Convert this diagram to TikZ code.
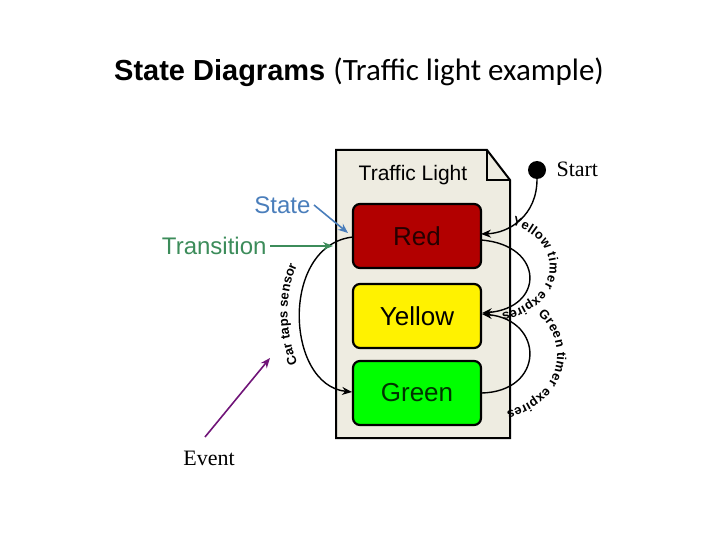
\documentclass[tikz,border=0pt]{standalone}
\usepackage{fontspec}
\setmainfont{Liberation Serif}
\setsansfont{Liberation Sans}
\newfontfamily\carl{Carlito}
\usetikzlibrary{arrows.meta,decorations.text}
\definecolor{stblue}{RGB}{74,126,187}
\definecolor{trgreen}{RGB}{60,140,90}
\definecolor{evpur}{RGB}{112,20,120}
\definecolor{paper}{RGB}{238,236,225}
\begin{document}
\begin{tikzpicture}[x=1pt,y=-1pt,
  st/.style={draw=black,line width=2.2pt,rounded corners=7pt,minimum width=128pt,minimum height=64pt,font=\sffamily\fontsize{26}{26}\selectfont},
  arr/.style={-{Stealth[length=10pt,width=8pt]},line width=1.4pt},
  lab/.style={font=\sffamily\fontsize{24}{24}\selectfont},
  curv/.style={decorate,decoration={text along path,text align=center,raise=3pt,text={|\sffamily\bfseries\fontsize{13}{13}\selectfont|#1}}}]
\useasboundingbox (0,0) rectangle (720,540);
\node[anchor=west,inner sep=0] (title) at (114,72) {\sffamily\bfseries\fontsize{29}{29}\selectfont State Diagrams \carl\mdseries\fontsize{31}{31}\selectfont(Traffic light example)};
\draw[fill=paper,line width=2pt] (336,150) -- (487,150) -- (510,180) -- (510,438) -- (336,438) -- cycle;
\draw[line width=2pt] (487,150) -- (487,180) -- (510,180);
\node[font=\sffamily\fontsize{21}{21}\selectfont] (tl) at (413,175) {Traffic Light};
\node[st,fill=red!70!black,text=black!85!red] (red) at (417,236) {Red};
\node[st,fill=yellow] (yel) at (417,316) {Yellow};
\node[st,fill=green,text=black!80!green] (grn) at (417,393) {Green};
\node[circle,fill=black,minimum size=18pt,inner sep=0] (start) at (537,170) {};
\node[anchor=west,font=\fontsize{22}{22}\selectfont] (stt) at (553,169) {Start};
\draw[arr] (start.south) .. controls (537,215) and (510,233) .. (481,234);
\draw[arr] (481,240) .. controls (545,245) and (545,308) .. (482,313);
\draw[arr] (481,393) .. controls (545,392) and (545,320) .. (482,314);
\draw[arr] (353,237) .. controls (280,245) and (285,385) .. (352,392);
\path[curv={Car taps sensor}]
  (345,400) .. controls (275,390) and (270,240) .. (345,230);
\path[curv={Yellow timer expires}]
  (505,226) .. controls (562,238) and (562,300) .. (495,312);
\path[curv={Green timer expires}]
  (520,308) .. controls (568,325) and (572,402) .. (488,412);
\node[lab,text=stblue,anchor=east] (state) at (314,205) {State};
\node[lab,text=trgreen,anchor=east] (trans) at (270,246) {Transition};
\draw[arr,draw=stblue,line width=1.6pt] (state.east) -- (348,233);
\draw[arr,draw=trgreen,line width=1.6pt] (trans.east) -- (333,246);
\coordinate (ev) at (205,437);
\node[font=\fontsize{22}{22}\selectfont] (event) at (209,458) {Event};
\draw[arr,draw=evpur,line width=1.6pt] (ev) -- (270,358);
\end{tikzpicture}
\end{document}
